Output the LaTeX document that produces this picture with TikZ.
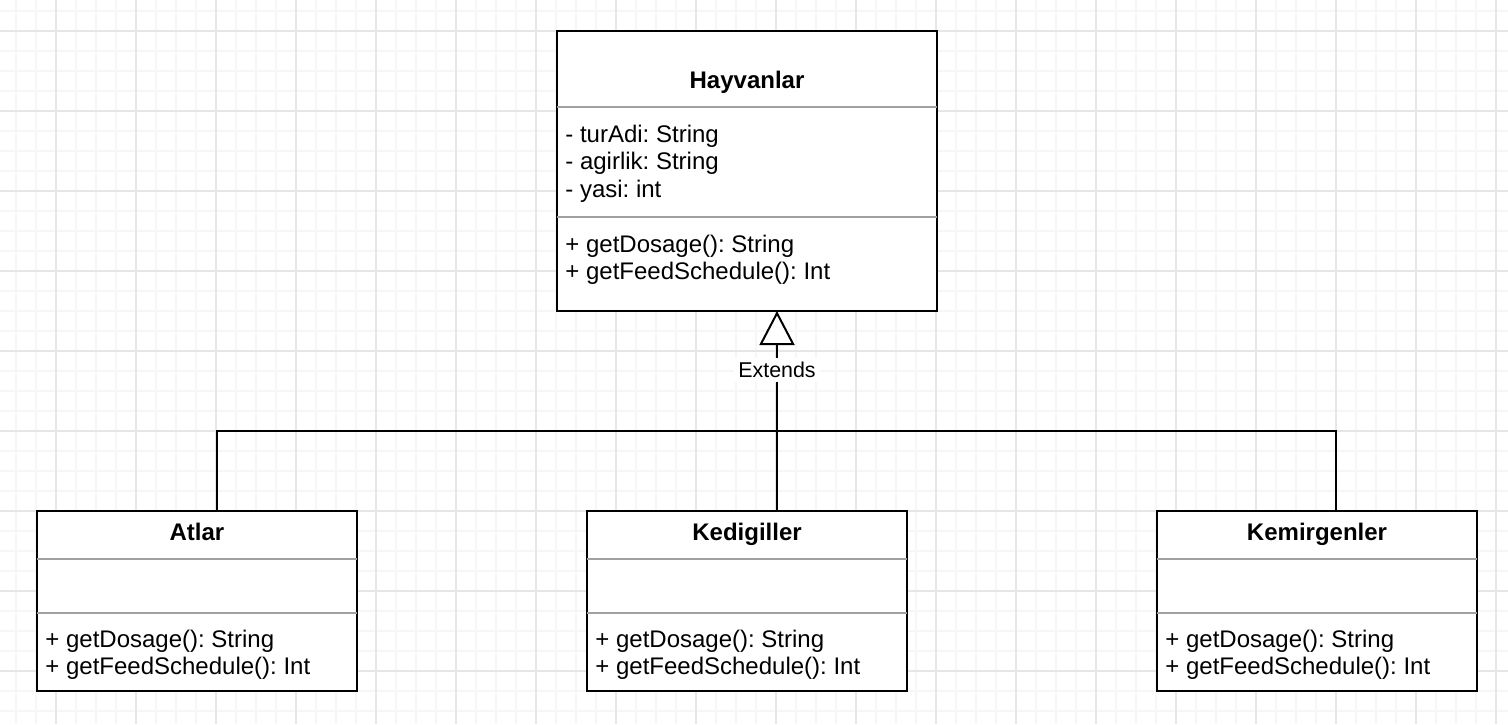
\documentclass[tikz,border=0pt]{standalone}
\usepackage{fontspec}
\setmainfont{Liberation Sans}
\usetikzlibrary{arrows.meta,calc}
\definecolor{gridminor}{HTML}{F6F6F6}
\definecolor{gridmajor}{HTML}{E6E6E6}
\definecolor{sepgray}{HTML}{A0A0A0}
\frenchspacing
\begin{document}
\begin{tikzpicture}[x=0.5pt,y=-0.5pt,
  classbox/.style={draw=black,line width=1pt,fill=white,inner sep=0pt,outer sep=0pt,anchor=north west},
  bigbox/.style={classbox,minimum width=190pt,minimum height=140pt},
  smallbox/.style={classbox,minimum width=160pt,minimum height=90pt},
  sepline/.style={draw=sepgray,line width=1pt},
  title/.style={font=\fontsize{12}{14}\selectfont\bfseries,anchor=base,inner sep=0pt},
  member/.style={font=\fontsize{12}{14}\selectfont,anchor=base west,inner sep=0pt},
  edge/.style={draw=black,line width=1pt},
  lbl/.style={font=\fontsize{10.7}{13}\selectfont,fill=white,inner sep=2pt}
]
\useasboundingbox (0,0) rectangle (1508,724);
\fill[white] (0,0) rectangle (1508,724);
% grid
\foreach \x in {16,36,...,1508} \draw[gridminor,line width=1pt] (\x,0) -- (\x,724);
\foreach \y in {11,31,...,724} \draw[gridminor,line width=1pt] (0,\y) -- (1508,\y);
\foreach \x in {56,136,...,1508} \draw[gridmajor,line width=1pt] (\x,0) -- (\x,724);
\foreach \y in {31,111,...,724} \draw[gridmajor,line width=1pt] (0,\y) -- (1508,\y);

% Hayvanlar
\node[bigbox] (hay) at (557,31) {};
\draw[sepline] (557,107) -- (937,107);
\draw[sepline] (557,217) -- (937,217);
\node[title] (hayt) at (747,88) {Hayvanlar};
\node[member] (haya1) at (565,142) {- turAdi: String};
\node[member] (haya2) at (565,169.5) {- agirlik: String};
\node[member] (haya3) at (565,197) {- yasi: int};
\node[member] (haym1) at (565,252) {+ getDosage(): String};
\node[member] (haym2) at (565,279.5) {+ getFeedSchedule(): Int};

% Atlar
\node[smallbox] (atl) at (37,511) {};
\draw[sepline] (37,559) -- (357,559);
\draw[sepline] (37,613) -- (357,613);
\node[title] (atlt) at (197,540) {Atlar};
\node[member] (atlm1) at (45,647) {+ getDosage(): String};
\node[member] (atlm2) at (45,674.5) {+ getFeedSchedule(): Int};

% Kedigiller
\node[smallbox] (ked) at (587,511) {};
\draw[sepline] (587,559) -- (907,559);
\draw[sepline] (587,613) -- (907,613);
\node[title] (kedt) at (747,540) {Kedigiller};
\node[member] (kedm1) at (595,647) {+ getDosage(): String};
\node[member] (kedm2) at (595,674.5) {+ getFeedSchedule(): Int};

% Kemirgenler
\node[smallbox] (kem) at (1157,511) {};
\draw[sepline] (1157,559) -- (1477,559);
\draw[sepline] (1157,613) -- (1477,613);
\node[title] (kemt) at (1317,540) {Kemirgenler};
\node[member] (kemm1) at (1165,647) {+ getDosage(): String};
\node[member] (kemm2) at (1165,674.5) {+ getFeedSchedule(): Int};

% connectors
\draw[edge] ([xshift=10pt]atl.north) -- ++(0,-80) -| ([xshift=9.5pt]kem.north);
\draw[edge,-{Triangle[open,length=17pt,width=17.5pt,fill=white]}] ([xshift=15pt]ked.north) -- ([xshift=15pt]hay.south);
\node[lbl] (ext) at (777,370) {Extends};
\end{tikzpicture}
\end{document}
